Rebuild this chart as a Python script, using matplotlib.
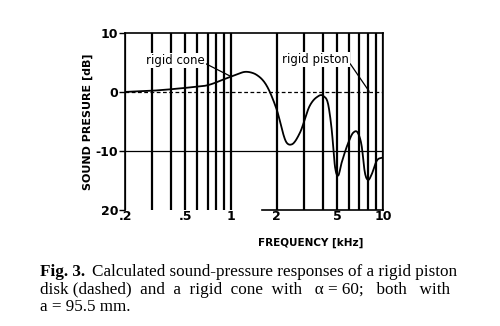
import numpy as np
import matplotlib.pyplot as plt
from matplotlib.ticker import FixedLocator, NullLocator

# rigid cone response (kHz, dB)
cone_freq = [0.2, 0.30, 0.42, 0.55, 0.69, 0.93, 1.10, 1.23, 1.35, 1.47, 1.71, 1.99, 2.32, 2.50,
             2.84, 3.30, 3.66, 4.05, 4.37, 4.59, 4.85, 5.05, 5.34, 5.91, 6.37, 6.88, 7.23,
             7.6, 8.0, 8.41, 9.08, 9.98]
cone_db = [0.0, 0.2, 0.5, 0.8, 1.1, 2.3, 3.0, 3.4, 3.3, 2.9, 1.1, -2.9, -8.6, -8.9,
           -6.9, -2.3, -0.9, -0.7, -2.3, -6.3, -13.0, -14.2, -12.0, -8.6, -6.9, -7.1, -9.1,
           -13.7, -14.9, -14.0, -11.7, -11.1]

# rigid piston disk: flat (dashed)
piston_freq = [0.2, 10]
piston_db = [0, 0]

xticks = [0.2, 0.5, 1, 2, 5, 10]
xtick_labels = ['.2', '.5', '1', '2', '5', '10']
yticks = [10, 0, -10, -20]
ytick_labels = ['10', '0', '-10', '20']
grid_freq = [0.2, 0.3, 0.4, 0.5, 0.6, 0.7, 0.8, 0.9, 1, 2, 3, 4, 5, 6, 7, 8, 9, 10]


def hermite(x, y, xs):
    # piecewise cubic through the read points, for a smooth pen-drawn look
    x = np.asarray(x)
    y = np.asarray(y)
    m = np.gradient(y, x)
    out = np.empty_like(xs)
    for i, xv in enumerate(xs):
        k = max(min(np.searchsorted(x, xv) - 1, len(x) - 2), 0)
        h = x[k + 1] - x[k]
        t = (xv - x[k]) / h
        out[i] = ((2 * t**3 - 3 * t**2 + 1) * y[k] + (t**3 - 2 * t**2 + t) * h * m[k]
                  + (-2 * t**3 + 3 * t**2) * y[k + 1] + (t**3 - t**2) * h * m[k + 1])
    return out


fig = plt.figure(figsize=(5, 3.26), dpi=100)
ax = fig.add_axes([0.25, 0.356, 0.516, 0.543])

lf = np.log10(cone_freq)
lf_fine = np.linspace(lf[0], lf[-1], 600)
ax.plot(10**lf_fine, hermite(lf, cone_db, lf_fine), color='black', lw=1.3)
ax.plot(piston_freq, piston_db, color='black', lw=0.9, ls=(0, (3, 2)))

for f in grid_freq:
    ax.axvline(f, color='black', lw=1.6, zorder=0)
ax.axhline(-10, color='black', lw=0.9, zorder=0)

ax.set_xscale('log')
ax.set_xlim(0.2, 10)
ax.set_ylim(-20, 10)
ax.xaxis.set_major_locator(FixedLocator(xticks))
ax.xaxis.set_minor_locator(NullLocator())
ax.set_xticklabels(xtick_labels, fontsize=9, fontweight='bold')
ax.set_yticks(yticks)
ax.set_yticklabels(ytick_labels, fontsize=9, fontweight='bold')
ax.tick_params(axis='x', length=0, pad=0)
ax.tick_params(axis='y', length=4, width=1, pad=1)
ax.spines['bottom'].set_visible(False)
ax.plot([1.6, 10], [-20, -20], color='black', lw=1.2, clip_on=False)
for s in ['left', 'right', 'top']:
    ax.spines[s].set_linewidth(1.2)

ax.set_ylabel('SOUND PRESURE [dB]', fontsize=8, fontweight='bold', labelpad=2)
ax.set_xlabel('FREQUENCY [kHz]', fontsize=7.5, fontweight='bold', labelpad=11, x=0.72)

ax.annotate('rigid cone', xy=(1.0, 2.6), xytext=(0.43, 5.3), fontsize=8.5,
            ha='center', va='center',
            bbox=dict(boxstyle='square,pad=0.1', fc='white', ec='none'),
            arrowprops=dict(arrowstyle='-', color='black', lw=0.9, shrinkA=0, shrinkB=0,
                            relpos=(1.0, 0.3)))
ax.annotate('rigid piston', xy=(8.1, 0.1), xytext=(3.6, 5.5), fontsize=8.5,
            ha='center', va='center',
            bbox=dict(boxstyle='square,pad=0.1', fc='white', ec='none'),
            arrowprops=dict(arrowstyle='-', color='black', lw=0.9, shrinkA=0, shrinkB=0,
                            relpos=(1.0, 0.3)))

cap = dict(fontsize=12.3, family='Liberation Serif', va='baseline')
fig.text(0.08, 1 - 276 / 326, 'Fig. 3.', fontweight='bold', **cap)
fig.text(0.185, 1 - 276 / 326, 'Calculated sound-pressure responses of a rigid piston', **cap)
fig.text(0.08, 1 - 294 / 326, 'disk (dashed)  and  a  rigid  cone  with   α = 60;   both   with', **cap)
fig.text(0.08, 1 - 311 / 326, 'a = 95.5 mm.', **cap)

fig.savefig('out.png', dpi=100)
